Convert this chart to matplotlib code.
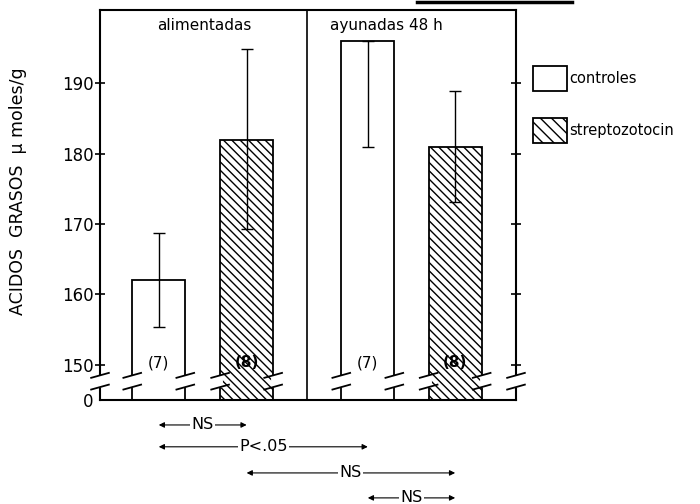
import numpy as np
import matplotlib
matplotlib.use("Agg")
import matplotlib.pyplot as plt
import matplotlib.transforms as mtransforms
from matplotlib.patches import Patch
from matplotlib.lines import Line2D

plt.rcParams["font.family"] = "DejaVu Sans"
plt.rcParams["hatch.linewidth"] = 1.0

# data
groups = ["alimentadas", "ayunadas 48 h"]
series = ["controles", "streptozotocin"]
means = [162, 182, 196, 181]
err_low = [6.6, 12.7, 15.1, 7.9]
err_high = [6.7, 12.8, 0.0, 7.9]
n_rats = ["(7)", "(8)", "(7)", "(8)"]
comparisons = [(0, 1, "NS"), (0, 2, "P<.05"), (1, 3, "NS"), (2, 3, "NS")]
yticks = [0, 150, 160, 170, 180, 190]

# layout
xpos = [1.13, 2.82, 5.15, 6.83]
width = 1.02
divider = 3.98
hatches = ["", "\\\\\\\\", "", "\\\\\\\\"]


# broken axis: squeeze 0..150 into a small strip below 150
def fwd(v):
    v = np.asarray(v, dtype=float)
    return np.where(v >= 150, v, 145 + v / 30.0)


def inv(u):
    u = np.asarray(u, dtype=float)
    return np.where(u >= 150, u, (u - 145) * 30.0)


fig = plt.figure(figsize=(7, 5.04), dpi=100)
ax = fig.add_axes([100 / 700, 1 - 400 / 504, 416 / 700, 390 / 504])
ax.set_yscale("function", functions=(fwd, inv))
ax.set_ylim(0, 200.4)
ax.set_xlim(0, 8)

bars = ax.bar(
    xpos, means, width=width, bottom=0,
    color="white", edgecolor="black", linewidth=1.3, zorder=2
)
for b, h in zip(bars, hatches):
    if h:
        b.set_hatch(h)

ax.errorbar(
    xpos, means, yerr=[err_low, err_high], fmt="none",
    ecolor="black", elinewidth=1.0, capsize=4, capthick=1.0, zorder=3
)

ax.axvline(divider, color="black", lw=1.2, zorder=1)

for i, (x, lab) in enumerate(zip(xpos, n_rats)):
    ax.text(x, 150.3, lab, ha="center", va="center", fontsize=11,
            fontweight="bold" if i % 2 else "normal", zorder=4)

ax.text(2.0, 198.2, groups[0], ha="center", va="center", fontsize=11)
ax.text(5.5, 198.2, groups[1], ha="center", va="center", fontsize=11)

# axis break marks on spines and bar edges
brk_hi, brk_lo = 105, 55
edges = [0, 8]
for x in xpos:
    edges += [x - width / 2, x + width / 2]
for ex in edges:
    ax.plot([ex, ex], [brk_lo, brk_hi], color="white", lw=3.5,
            zorder=5, clip_on=False, solid_capstyle="butt")
    for yv in (brk_lo, brk_hi):
        u = float(fwd(yv))
        ax.plot([ex - 0.17, ex + 0.17], inv([u - 0.35, u + 0.35]),
                color="black", lw=1.3, zorder=6, clip_on=False)

ax.set_yticks(yticks)
ax.set_yticklabels([str(t) for t in yticks], fontsize=12)
ax.set_xticks([])
ax.tick_params(axis="y", direction="inout", length=7, width=1.2,
               right=True, labelright=False, pad=1)
for t in ax.yaxis.get_major_ticks()[:1]:
    t.tick1line.set_visible(False)
    t.tick2line.set_visible(False)
for s in ax.spines.values():
    s.set_linewidth(1.5)

fig.text(18 / 700, 1 - 191 / 504, "ACIDOS  GRASOS  \u00b5 moles/g",
         rotation=90, ha="center", va="center", fontsize=12.5)

# significance arrows below the axis
trans = mtransforms.blended_transform_factory(ax.transData, ax.transAxes)
arrow_y = [-0.064, -0.12, -0.187, -0.251]
for (i, j, lab), yy in zip(comparisons, arrow_y):
    ax.annotate(
        "", xy=(xpos[j], yy), xytext=(xpos[i], yy),
        xycoords=trans, textcoords=trans, annotation_clip=False,
        arrowprops=dict(arrowstyle="<|-|>", lw=0.8, color="black",
                        mutation_scale=8, shrinkA=0, shrinkB=0)
    )
    ax.text((xpos[i] + xpos[j]) / 2, yy, lab, transform=trans,
            ha="center", va="center", fontsize=11.5,
            bbox=dict(facecolor="white", edgecolor="none", pad=1))

handles = [
    Patch(facecolor="white", edgecolor="black", linewidth=1.3),
    Patch(facecolor="white", edgecolor="black", linewidth=1.3, hatch="\\\\\\"),
]
fig.legend(handles, series, loc="upper left",
           bbox_to_anchor=(533 / 700, 1 - 66 / 504),
           bbox_transform=fig.transFigure, frameon=False, fontsize=10.5,
           handlelength=2.3, handleheight=2.3, handletextpad=0.2,
           labelspacing=1.8, borderpad=0, borderaxespad=0)

fig.add_artist(Line2D([417 / 700, 572 / 700], [1 - 1.5 / 504] * 2,
                      color="black", lw=2.5))

fig.savefig("out.png", dpi=100)
